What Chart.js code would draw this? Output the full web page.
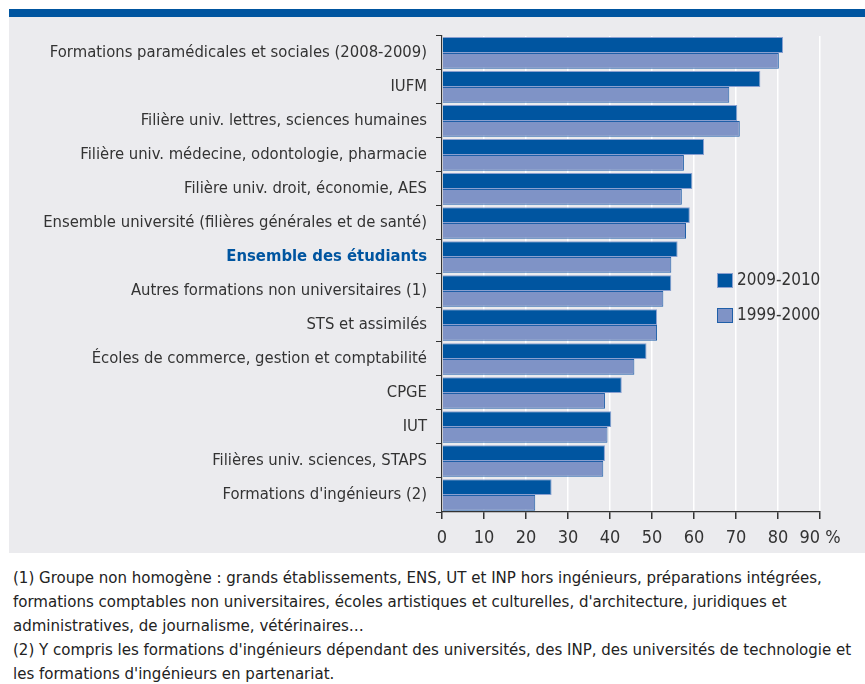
<!DOCTYPE html>
<html>
<head>
<meta charset="utf-8">
<script src="https://cdn.jsdelivr.net/npm/chart.js@4/dist/chart.umd.min.js"></script>
<style>
  body{ margin:0; background:#fff; width:865px; height:684px; position:relative; overflow:hidden;
        font-family:"Liberation Sans Narrow","DejaVu Sans Condensed",sans-serif; }
  #band{ position:absolute; left:9px; top:9px; width:856px; height:8px; background:#0055a0; }
  #box{ position:absolute; left:9px; top:17px; width:856px; height:536px; background:#ebebee; }
  #notes{ position:absolute; left:13px; top:565px; width:860px; font-size:16.7px; line-height:24px; color:#222; white-space:nowrap; }
</style>
</head>
<body>
<div id="band"></div>
<div id="box"><canvas id="chart" width="856" height="536"></canvas></div>
<div id="notes">
(1) Groupe non homogène : grands établissements, ENS, UT et INP hors ingénieurs, préparations intégrées,<br>
formations comptables non universitaires, écoles artistiques et culturelles, d'architecture, juridiques et<br>
administratives, de journalisme, vétérinaires…<br>
(2) Y compris les formations d'ingénieurs dépendant des universités, des INP, des universités de technologie et<br>
les formations d'ingénieurs en partenariat.
</div>
<script>
// ---- données ----
const categories = [
  "Formations paramédicales et sociales (2008-2009)",
  "IUFM",
  "Filière univ. lettres, sciences humaines",
  "Filière univ. médecine, odontologie, pharmacie",
  "Filière univ. droit, économie, AES",
  "Ensemble université (filières générales et de santé)",
  "Ensemble des étudiants",
  "Autres formations non universitaires (1)",
  "STS et assimilés",
  "Écoles de commerce, gestion et comptabilité",
  "CPGE",
  "IUT",
  "Filières univ. sciences, STAPS",
  "Formations d'ingénieurs (2)"
];
const values2010 = [81.2, 75.8, 70.3, 62.4, 59.6, 59.0, 56.1, 54.6, 51.2, 48.7, 42.8, 40.3, 38.8, 26.1];
const values2000 = [80.2, 68.4, 70.9, 57.6, 57.1, 58.1, 54.6, 52.7, 51.2, 45.8, 38.8, 39.4, 38.4, 22.2];
const seriesLabels = ["2009-2010", "1999-2000"];
const xTicks = [0, 10, 20, 30, 40, 50, 60, 70, 80, 90];
const highlight = "Ensemble des étudiants";

const FONT = '"Liberation Sans Narrow","DejaVu Sans Condensed",sans-serif';
const DARK = "#0055a0";
const LIGHT = "#7f93c6";

// légende dessinée dans la zone du graphique
const legendPlugin = {
  id: "boxLegend",
  afterDraw(chart){
    const c = chart.ctx;
    c.save();
    chart.data.datasets.forEach((ds, i) => {
      const x = 708, y = 256 + i * 35;
      c.fillStyle = ds.backgroundColor;
      c.fillRect(x, y, 16, 15);
      c.strokeStyle = ds.borderColor;
      c.lineWidth = 1;
      c.strokeRect(x + 0.5, y + 0.5, 15, 14);
      c.fillStyle = "#333";
      c.font = "17px " + FONT;
      c.textBaseline = "middle";
      c.fillText(ds.label, x + 20, y + 8);
    });
    c.restore();
  }
};

new Chart(document.getElementById("chart"), {
  type: "bar",
  data: {
    labels: categories,
    datasets: [
      { label: seriesLabels[0], data: values2010, backgroundColor: DARK, borderColor: "#8aa0d0",
        borderWidth: 1, categoryPercentage: 0.93, barPercentage: 1 },
      { label: seriesLabels[1], data: values2000, backgroundColor: LIGHT, borderColor: "#1f5fa8",
        borderWidth: 1, categoryPercentage: 0.93, barPercentage: 1 }
    ]
  },
  options: {
    indexAxis: "y",
    responsive: false,
    animation: false,
    layout: { padding: { top: 15, right: 45 } },
    plugins: { legend: { display: false }, tooltip: { enabled: false } },
    scales: {
      x: {
        min: 0, max: 90,
        afterBuildTicks: s => { s.ticks = xTicks.map(v => ({ value: v })); },
        afterFit: s => { s.height = 41; },
        grid: { color: "#ffffff", lineWidth: 1.5, tickColor: "#333", tickLength: 7 },
        border: { color: "#333", width: 1.2 },
        ticks: {
          color: "#333", padding: 9, maxRotation: 0, minRotation: 0, autoSkip: false,
          font: { family: FONT, size: 18 },
          callback: v => v === 90 ? "90 %" : String(v)
        }
      },
      y: {
        afterFit: s => { s.width = 433; },
        grid: { drawOnChartArea: false, tickColor: "#333", tickLength: 6, offset: true },
        border: { color: "#333", width: 1.2 },
        ticks: {
          padding: 9,
          color: ctx => categories[ctx.index] === highlight ? DARK : "#333",
          font: ctx => categories[ctx.index] === highlight
            ? { family: FONT, size: 16.5, weight: "bold" }
            : { family: FONT, size: 16.5 }
        }
      }
    }
  },
  plugins: [legendPlugin]
});
</script>
</body>
</html>
